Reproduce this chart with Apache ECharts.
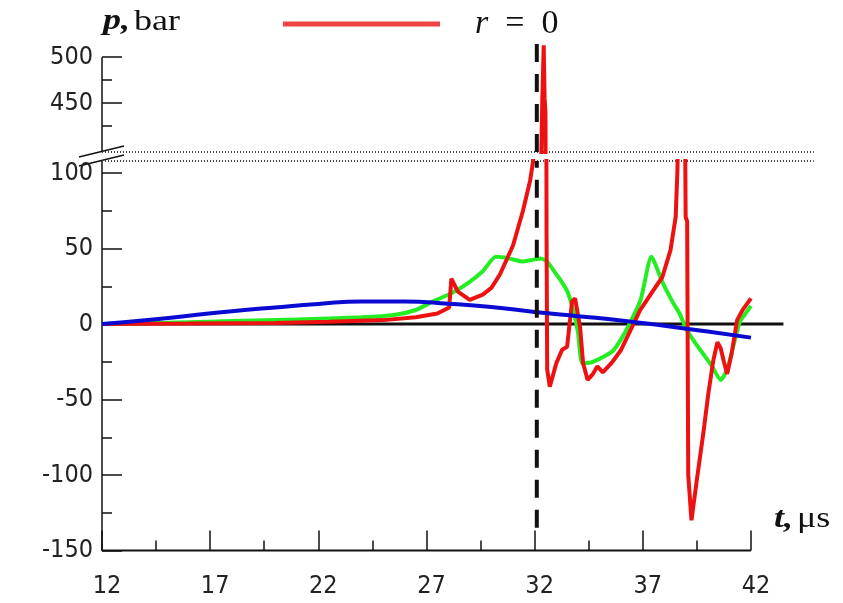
<!DOCTYPE html>
<html>
<head>
<meta charset="utf-8">
<script src="https://cdn.jsdelivr.net/npm/echarts@6.0.0/dist/echarts.min.js"></script>
<style>
html, body { margin: 0; padding: 0; background: #fff; }
#main { width: 843px; height: 603px; }
</style>
</head>
<body>
<div id="main"></div>
<script>
// pressure traces, t in us, p in bar
var tRed = [12,16,20,22.5,25,26.5,27.5,28.05,28.15,28.45,29.0,29.6,30.0,30.4,31.0,31.46,31.79,31.93,32.2,32.35,32.42,32.46,32.5,32.55,32.58,32.7,33.0,33.27,33.5,33.73,33.87,34.1,34.24,34.45,34.7,34.9,35.15,35.6,36.0,36.3,36.87,37.47,37.9,38.28,38.52,38.6,38.65,38.95,38.98,39.05,39.1,39.25,39.5,39.8,40.03,40.26,40.45,40.6,40.75,40.9,41.1,41.36,41.6,42.0];
var pRed = [0,0.3,0.7,1.5,2.6,4.5,7,11,30,21.5,16,19.5,24,33,52,75,95,108,250,450,513,455,440,60,-30,-41.5,-26,-17,-15,15,17,-2,-26,-37,-33,-28,-32,-25,-17,-8,9,22,31,49,71,102,140,140,71,68,-100,-130,-103,-72,-46,-24,-12,-16,-25,-33,-20,2.6,9,17];

var tGreen = [12,15,18,21,24,25.5,26.5,27.3,28.1,28.9,29.6,30.2,30.8,31.4,31.9,32.3,32.6,32.9,33.2,33.5,33.75,34.0,34.2,34.6,35.0,35.6,36.0,36.4,36.9,37.4,37.9,38.4,38.7,39.0,39.4,39.8,40.2,40.6,40.8,41.0,41.3,41.5,41.7,42.0];
var pGreen = [0,0.8,2,3,4.5,6,9.3,15,20,27,35,44.5,43.5,41.5,42.5,43.5,41,35,29,22,11,-5,-26,-25.5,-23,-18,-10,0.5,16,44.5,28,14,7,-3,-12,-20,-28,-37,-33,-25,-8,2,6,12];

var tBlue = [12,14,16,18,20,22,24,26,28,30,32,34,36,38,40,42];
var pBlue = [0,2.5,5.5,8.5,11,13.3,15,15,13.5,11.3,8,5.2,2.4,-1.2,-5,-9];

// axes
var xTicks = [12,17,22,27,32,37,42];
var xMinorTicks = [14.5,19.5,24.5,29.5,34.5,39.5];
var yTicksLow = [-150,-100,-50,0,50,100];
var yMinorLow = [-125,-75,-25,25,75];
var yTicksHigh = [450,500];
var yMinorHigh = [425,475];

var breakLow = 108;   // top of lower part
var breakHigh = 397;  // bottom of upper part
var xSpineT = [12,42];
var zeroLineT = [12,43.5];
var breakLineT = [12,44.9];
var tShock = 32.1;
var shockLow = [-135,108];
var shockHigh = [397,524];
var spineHigh = [397,500];

function zip(t, p) {
  return t.map(function(v, i) { return [v, p[i]]; });
}

var numFont = "'Liberation Sans Narrow','DejaVu Sans Condensed','Liberation Sans',sans-serif";
var serif = "'Liberation Serif','DejaVu Serif',serif";
var inkColor = '#111';

function tickAxis(grid, vals, len, labels, extra) {
  var a = {
    gridIndex: grid,
    type: 'value',
    axisLine: { show: false, onZero: false },
    axisTick: { show: true, inside: true, length: len, customValues: vals,
                lineStyle: { color: inkColor, width: 1.5 } },
    axisLabel: labels ? { customValues: vals, fontFamily: numFont, fontSize: 25, color: '#222' }
                      : { show: false },
    splitLine: { show: false }
  };
  for (var k in extra) a[k] = extra[k];
  return a;
}

var xLow = { min: 12, max: 46, position: 'bottom' };
var xAxes = [
  tickAxis(0, xTicks, 20, true, xLow),
  tickAxis(0, xMinorTicks, 10, false, xLow),
  { gridIndex: 1, type: 'value', min: 12, max: 46, show: false }
];
xAxes[0].axisLabel.margin = 23;
xAxes[0].axisLabel.padding = [0, 0, 0, 10];

var yLow = { min: -150, max: breakLow, position: 'left' };
var yHigh = { min: breakHigh, max: 530, position: 'left' };
var yAxes = [
  tickAxis(0, yTicksLow, 20, true, yLow),
  tickAxis(0, yMinorLow, 10, false, yLow),
  tickAxis(1, yTicksHigh, 20, true, yHigh),
  tickAxis(1, yMinorHigh, 10, false, yHigh)
];
yAxes[0].axisLine = { show: true, onZero: false, lineStyle: { color: inkColor, width: 1.5 } };
yAxes[0].axisLabel.margin = 9;
yAxes[2].axisLabel.margin = 9;

function lineSeries(name, data, color, width, grid, extra) {
  var s = {
    name: name, type: 'line', data: data,
    xAxisIndex: grid === 0 ? 0 : 2, yAxisIndex: grid === 0 ? 0 : 2,
    symbol: 'none', silent: true, animation: false,
    lineStyle: { color: color, width: width },
    itemStyle: { color: color }
  };
  for (var k in extra) s[k] = extra[k];
  return s;
}

var red = '#ee1111', green = '#22ee22', blue = '#0a0ad2';
var nameRich = {
  b: { fontFamily: serif, fontWeight: 'bold', fontStyle: 'italic', fontSize: 30, fill: inkColor },
  n: { fontFamily: serif, fontWeight: 'normal', fontSize: 30, fill: inkColor }
};

var option = {
  backgroundColor: '#fff',
  animation: false,
  legend: {
    data: ['r = 0'], left: 278, top: 2,
    icon: 'rect', itemWidth: 157, itemHeight: 5,
    itemStyle: { color: '#ee4444' },
    formatter: '{i|r}  =  0',
    textStyle: { fontFamily: serif, fontSize: 34, color: inkColor, padding: [0, 0, 0, 30],
      rich: { i: { fontFamily: serif, fontStyle: 'italic', fontSize: 34, color: inkColor } } }
  },
  grid: [
    { left: 102, right: 5.5, top: 161, bottom: 52.5 },
    { left: 102, right: 5.5, top: 152 - (530 - breakHigh) * 0.92, bottom: 451 }
  ],
  xAxis: xAxes,
  yAxis: yAxes,
  series: [
    lineSeries('xspine', zip(xSpineT, [-150, -150]), inkColor, 2, 0, { clip: false }),
    lineSeries('zero', zip(zeroLineT, [0, 0]), inkColor, 3, 0, { z: 1 }),
    lineSeries('brk1', zip(breakLineT, [breakLow, breakLow]), '#444', 2, 0,
      { clip: false, lineStyle: { color: '#444', width: 2, type: [1, 2] } }),
    lineSeries('brk2', zip(breakLineT, [breakHigh, breakHigh]), '#444', 2, 1,
      { clip: false, lineStyle: { color: '#444', width: 2, type: [1, 2] } }),
    lineSeries('spine', zip([12, 12], spineHigh), inkColor, 1.5, 1, { clip: false }),
    lineSeries('g', zip(tGreen, pGreen), green, 4, 0, { z: 2, smooth: 0.2 }),
    lineSeries('r = 0', zip(tRed, pRed), red, 4, 0, { z: 3 }),
    lineSeries('r = 0', zip(tRed, pRed), red, 4, 1, { z: 3 }),
    lineSeries('b', zip(tBlue, pBlue), blue, 4, 0, { z: 4, smooth: 0.5 }),
    lineSeries('shock1', zip([tShock, tShock], shockLow), inkColor, 4, 0,
      { z: 5, lineStyle: { color: inkColor, width: 4, type: [18, 12] } }),
    lineSeries('shock2', zip([tShock, tShock], shockHigh), inkColor, 4, 1,
      { z: 5, lineStyle: { color: inkColor, width: 4, type: [18, 12] } })
  ]
};

var chart = echarts.init(document.getElementById('main'), null, { renderer: 'canvas' });
chart.setOption(option);

// axis-break marks and axis names, anchored on the axes via the scales
var pLow = chart.convertToPixel({ gridIndex: 0 }, [12, breakLow]);
var pHigh = chart.convertToPixel({ gridIndex: 1 }, [12, breakHigh]);
var pTop = chart.convertToPixel({ gridIndex: 1 }, [12, 530]);
var pEnd = chart.convertToPixel({ gridIndex: 0 }, [42, -150]);
function breakMark(p) {
  return { type: 'line', silent: true,
    shape: { x1: p[0] - 23, y1: p[1] + 5, x2: p[0] + 22, y2: p[1] - 6 },
    style: { stroke: inkColor, lineWidth: 1.5 } };
}
function axisName(text, x, y) {
  return { type: 'text', silent: true, x: x, y: y, scaleX: 1.2,
    style: { text: text, rich: nameRich, verticalAlign: 'top', align: 'left' } };
}
chart.setOption({ graphic: [
  breakMark(pLow), breakMark(pHigh),
  axisName('{b|p,} {n|bar}', pTop[0] + 1, pTop[1] - 23),
  axisName('{b|t,} {n|\u03bcs}', pEnd[0] + 23, pEnd[1] - 46)
] });
</script>
</body>
</html>
